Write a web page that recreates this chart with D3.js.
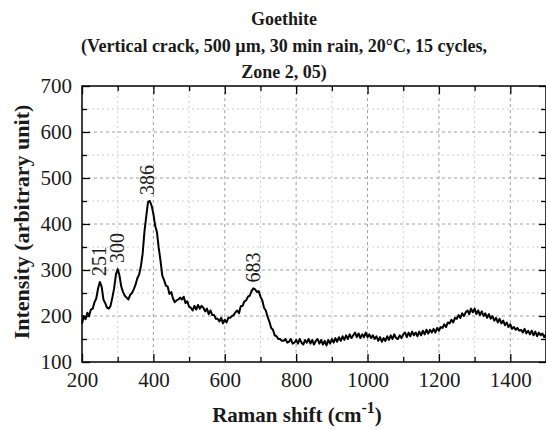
<!DOCTYPE html>
<html><head><meta charset="utf-8">
<script src="https://cdn.jsdelivr.net/npm/d3@7"></script>
<style>body{margin:0;background:#fff}svg{display:block}</style>
</head><body><svg id="c" width="546" height="430"></svg>
<script>
// Raman shift sampling grid (cm-1), step 5
const ramanShift = d3.range(200, 1501, 5);
// Intensity (arbitrary unit)
const intensity = [
 183,200,193,207,201,214,216,230,238,260,274,264,236,228,218,216,222,240,260,290,
 302,288,264,252,244,240,236,246,250,258,268,282,290,308,336,384,416,448,450,440,
 422,396,382,348,320,288,278,266,264,248,252,238,230,234,236,240,236,242,228,232,
 220,218,212,222,214,224,216,222,218,210,216,204,212,202,202,194,194,188,196,184,
 192,186,196,196,200,202,208,212,206,222,222,232,234,242,244,254,260,258,252,254,
 242,234,218,212,198,188,174,170,158,156,150,150,146,146,150,142,144,150,140,142,
 148,140,150,142,138,148,142,150,140,148,138,146,150,140,148,138,146,136,148,140,
 150,142,152,144,154,146,156,148,158,150,160,152,158,164,154,162,152,160,154,164,
 154,160,152,158,150,156,146,154,144,152,146,156,148,158,150,160,152,150,158,152,
 160,164,154,164,156,166,158,164,156,166,158,168,160,170,162,170,164,172,164,174,
 168,176,174,182,176,186,184,192,186,196,194,202,196,206,200,208,212,204,216,208,
 216,204,212,202,210,200,206,196,204,194,200,190,196,186,194,184,190,180,186,176,
 182,172,176,170,174,168,170,164,172,162,168,160,168,158,166,156,164,158,162,154,
 160
];
const peakLabels = [251, 300, 386, 683];
const xMajor = [200, 400, 600, 800, 1000, 1200, 1400];
const xMinor = [300, 500, 700, 900, 1100, 1300, 1500];
const yMajor = [100, 200, 300, 400, 500, 600, 700];
const yMinor = [150, 250, 350, 450, 550, 650];
const titleLines = ["Goethite", "(Vertical crack, 500 µm, 30 min rain, 20°C, 15 cycles,", "Zone 2, 05)"];

const data = ramanShift.map((x, i) => ({x, y: intensity[i]}));
const svg = d3.select("#c");
const L = 82, R = 546, T = 86, B = 362;
const x = d3.scaleLinear().domain([200, 1500]).range([L, R]);
const y = d3.scaleLinear().domain([100, 700]).range([B, T]);
const serif = "'Liberation Serif', 'DejaVu Serif', serif";

// grid
const g = svg.append("g");
g.selectAll(".gvmin").data(xMinor).join("line")
  .attr("x1", d => x(d)).attr("x2", d => x(d)).attr("y1", T).attr("y2", B)
  .attr("stroke", "#cfcfcf").attr("stroke-width", 1).attr("stroke-dasharray", "2,3");
g.selectAll(".ghmin").data(yMinor).join("line")
  .attr("x1", L).attr("x2", R).attr("y1", d => y(d)).attr("y2", d => y(d))
  .attr("stroke", "#cfcfcf").attr("stroke-width", 1).attr("stroke-dasharray", "2,3");
g.selectAll(".gvmaj").data(xMajor.slice(1)).join("line")
  .attr("x1", d => x(d)).attr("x2", d => x(d)).attr("y1", T).attr("y2", B)
  .attr("stroke", "#a0a0a0").attr("stroke-width", 1).attr("stroke-dasharray", "3,3");
g.selectAll(".ghmaj").data(yMajor.slice(1, -1)).join("line")
  .attr("x1", L).attr("x2", R).attr("y1", d => y(d)).attr("y2", d => y(d))
  .attr("stroke", "#a0a0a0").attr("stroke-width", 1).attr("stroke-dasharray", "3,3");

// curve
svg.append("path").datum(data)
  .attr("fill", "none").attr("stroke", "#000").attr("stroke-width", 2)
  .attr("stroke-linejoin", "round")
  .attr("d", d3.line().x(d => x(d.x)).y(d => y(d.y)));

// axes
function styleAxis(sel) {
  sel.attr("font-family", serif);
  sel.select(".domain").remove();
  sel.selectAll(".tick line").attr("stroke", "#000").attr("stroke-width", 1.3);
  sel.selectAll("text").attr("font-family", serif).attr("font-size", 21).attr("fill", "#1a1a1a");
}
svg.append("g").attr("transform", `translate(0,${B})`)
  .call(d3.axisBottom(x).tickValues(xMajor).tickSize(-8).tickPadding(10).tickFormat(d3.format("d"))).call(styleAxis);
svg.append("g").attr("transform", `translate(0,${B})`)
  .call(d3.axisBottom(x).tickValues(xMinor).tickSize(-5).tickFormat("")).call(styleAxis);
svg.append("g").attr("transform", `translate(0,${T})`)
  .call(d3.axisTop(x).tickValues(xMajor).tickSize(-8).tickFormat("")).call(styleAxis);
svg.append("g").attr("transform", `translate(0,${T})`)
  .call(d3.axisTop(x).tickValues(xMinor).tickSize(-5).tickFormat("")).call(styleAxis);
svg.append("g").attr("transform", `translate(${L},0)`)
  .call(d3.axisLeft(y).tickValues(yMajor).tickSize(-8).tickPadding(10).tickFormat(d3.format("d"))).call(styleAxis);
svg.append("g").attr("transform", `translate(${L},0)`)
  .call(d3.axisLeft(y).tickValues(yMinor).tickSize(-5).tickFormat("")).call(styleAxis);
svg.append("g").attr("transform", `translate(${R},0)`)
  .call(d3.axisRight(y).tickValues(yMajor).tickSize(-7).tickFormat("")).call(styleAxis);
svg.append("g").attr("transform", `translate(${R},0)`)
  .call(d3.axisRight(y).tickValues(yMinor).tickSize(-5).tickFormat("")).call(styleAxis);

// frame
svg.append("rect").attr("x", L).attr("y", T).attr("width", R - L).attr("height", B - T)
  .attr("fill", "none").attr("stroke", "#000").attr("stroke-width", 1.5);

// peak labels
svg.selectAll(".pl").data(peakLabels).join("text")
  .attr("transform", d => {
    const near = data.filter(p => Math.abs(p.x - d) <= 8);
    const top = d3.max(near, p => p.y);
    return `translate(${x(d) + 6},${y(top) - 6}) rotate(-90)`;
  })
  .attr("font-family", serif).attr("font-size", 20).attr("fill", "#1a1a1a")
  .text(d => d);

// titles
svg.selectAll(".tt").data(titleLines).join("text")
  .attr("x", 284).attr("y", (d, i) => 25 + i * 26.5)
  .attr("text-anchor", "middle").attr("font-family", serif).attr("font-weight", "bold")
  .attr("font-size", 18).attr("fill", "#1a1a1a").text(d => d);

// axis titles
const xt = svg.append("text").attr("x", 297).attr("y", 422).attr("text-anchor", "middle")
  .attr("font-family", serif).attr("font-weight", "bold").attr("font-size", 21).attr("fill", "#1a1a1a");
xt.append("tspan").text("Raman shift (cm");
xt.append("tspan").attr("dy", -9).attr("font-size", 16).text("-1");
xt.append("tspan").attr("dy", 9).text(")");

svg.append("text").attr("transform", `translate(29,222) rotate(-90)`).attr("text-anchor", "middle")
  .attr("font-family", serif).attr("font-weight", "bold").attr("font-size", 22).attr("fill", "#1a1a1a")
  .text("Intensity (arbitrary unit)");
</script></body></html>
